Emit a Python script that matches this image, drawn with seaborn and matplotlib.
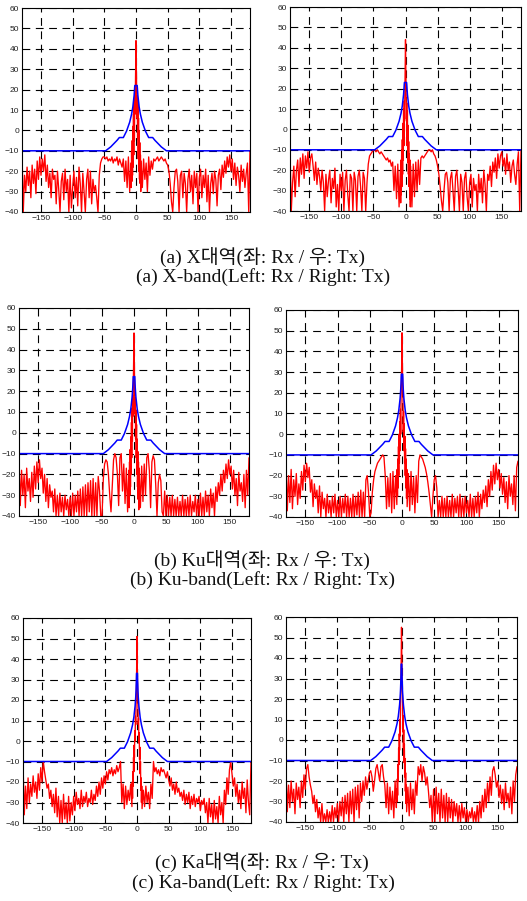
import numpy as np
import pandas as pd
import matplotlib
matplotlib.use("Agg")
import matplotlib.pyplot as plt
import seaborn as sns

sns.set_style("white")
plt.rcParams['font.family'] = ['Liberation Sans', 'DejaVu Sans']

# ---------------- data ----------------
# angle grids (degrees)
ang_left = np.arange(-180, -9, 2)          # -180 .. -10
ang_center = np.arange(-8, 8.01, 0.5)       # -8 .. 8
ang_right = np.arange(10, 181, 2)           # 10 .. 180

# ---- X band Rx ----
x_rx_left = [-10, -40, -22, -30, -18, -27, -20, -33, -17, -26,
             -19, -31, -15, -24, -13, -22, -14, -20, -12, -25,
             -17, -28, -21, -33, -19, -24, -22, -36, -20, -29,
             -40, -25, -21, -34, -19, -30, -24, -40, -22, -38,
             -28, -20, -33, -23, -37, -18, -26, -40, -21, -30,
             -40, -24, -19, -33, -20, -36, -24, -30, -27, -33,
             -40, -22, -16, -14, -13, -13, -14, -13, -15, -14,
             -15, -13, -16, -14, -15, -13, -17, -14, -16, -18,
             -14, -25, -15, -28, -13, -30]
x_rx_center = [-16, -28, -10, -25, -5, -22, 2, -18, 8, -12, 14, -5, 18, 8, 22, 32, 44,
               33, 21, 6, 17, -4, 13, -14, 6, -20, 0, -24, -6, -26, -12, -30, -15]
x_rx_right = [-28, -14, -24, -16, -30, -13, -22, -15, -19, -14,
              -15, -14, -13, -15, -14, -13, -14, -15, -14, -16,
              -17, -20, -26, -35, -40, -28, -20, -19, -25, -40,
              -22, -20, -33, -21, -26, -40, -24, -19, -30, -22,
              -36, -20, -28, -21, -40, -23, -19, -33, -22, -28,
              -19, -35, -22, -40, -26, -21, -31, -20, -24, -37,
              -22, -19, -29, -17, -23, -15, -21, -13, -18, -12,
              -20, -14, -24, -16, -27, -18, -22, -30, -17, -25,
              -19, -28, -21, -16, -40, -10]

# ---- X band Tx ----
x_tx_left = [-10, -40, -26, -18, -33, -20, -15, -28, -14, -22,
             -12, -24, -13, -19, -11, -21, -14, -12, -18, -25,
             -16, -27, -19, -23, -30, -20, -26, -40, -22, -33,
             -25, -20, -36, -24, -29, -19, -38, -27, -40, -22,
             -30, -21, -40, -25, -20, -32, -40, -22, -24, -40,
             -21, -25, -40, -23, -20, -28, -40, -21, -24, -40,
             -26, -17, -13, -12, -11, -10, -10, -11, -10, -11,
             -12, -11, -12, -13, -14, -15, -14, -16, -15, -18,
             -16, -30, -18, -34, -17, -38]
x_tx_center = [-20, -36, -15, -32, -10, -28, -5, -22, 3, -15, 10, -8, 14, 5, 20, 30, 44,
               31, 19, 4, 13, -8, 9, -16, 2, -22, -6, -28, -12, -34, -15, -38, -18]
x_tx_right = [-38, -17, -33, -16, -30, -15, -27, -14, -13, -14,
              -13, -12, -11, -10, -10, -11, -10, -12, -13, -15,
              -18, -22, -28, -35, -40, -30, -22, -21, -26, -40,
              -24, -21, -30, -40, -23, -20, -29, -40, -22, -26,
              -40, -24, -21, -33, -40, -26, -22, -38, -24, -30,
              -27, -40, -22, -31, -24, -36, -20, -27, -40, -22,
              -25, -18, -28, -16, -21, -14, -24, -12, -19, -13,
              -11, -18, -14, -22, -12, -20, -16, -26, -18, -15,
              -22, -27, -17, -11, -40, -10]

# ---- Ku band Rx ----
ku_rx_left = [-13, -35, -18, -30, -20, -36, -17, -28, -22, -33,
              -19, -31, -16, -27, -14, -24, -13, -22, -17, -29,
              -20, -33, -22, -36, -25, -31, -28, -38, -27, -40,
              -30, -40, -29, -38, -31, -40, -30, -37, -32, -40,
              -31, -40, -29, -40, -30, -38, -28, -40, -27, -40,
              -26, -40, -25, -40, -24, -38, -23, -40, -22, -40,
              -24, -40, -21, -28, -40, -40, -22, -15, -13, -14,
              -20, -30, -38, -25, -13, -10, -12, -20, -35, -12,
              -10, -28, -15, -34, -17, -38]
ku_rx_center = [-18, -36, -14, -30, -8, -26, -2, -20, 5, -12, 12, -4, 18, 8, 25, 35, 48,
                36, 24, 9, 17, -3, 11, -12, 4, -20, -3, -26, -9, -32, -14, -37, -17]
ku_rx_right = [-36, -16, -33, -15, -30, -12, -10, -18, -36, -14,
               -11, -13, -25, -40, -24, -20, -23, -38, -40, -28,
               -40, -30, -40, -31, -40, -30, -40, -32, -40, -31,
               -40, -33, -40, -30, -40, -32, -40, -31, -40, -30,
               -40, -33, -38, -30, -40, -32, -40, -29, -40, -31,
               -40, -28, -38, -30, -40, -27, -36, -29, -40, -26,
               -33, -24, -30, -20, -28, -18, -24, -15, -22, -13,
               -20, -16, -27, -18, -30, -22, -35, -19, -28, -24,
               -33, -20, -36, -18, -30, -12]

# ---- Ku band Tx ----
ku_tx_left = [-13, -37, -20, -33, -17, -36, -22, -30, -19, -34,
              -24, -31, -18, -27, -15, -23, -14, -21, -16, -28,
              -22, -35, -24, -31, -27, -38, -25, -40, -28, -36,
              -31, -40, -29, -38, -32, -40, -30, -38, -29, -40,
              -32, -40, -30, -40, -31, -38, -29, -40, -30, -40,
              -31, -40, -29, -40, -30, -39, -28, -40, -27, -40,
              -28, -40, -22, -20, -28, -40, -38, -28, -22, -18,
              -16, -14, -13, -12, -11, -10, -11, -20, -36, -21,
              -35, -19, -38, -18, -36, -20]
ku_tx_center = [-34, -17, -30, -12, -26, -6, -20, 0, -14, 6, -8, 12, 0, 18, 24, 34, 49,
                35, 25, 17, 1, 11, -8, 5, -14, -1, -20, -7, -26, -12, -31, -17, -35]
ku_tx_right = [-19, -37, -18, -34, -21, -38, -20, -33, -13, -10,
               -11, -12, -14, -16, -19, -23, -28, -34, -40, -30,
               -22, -20, -26, -40, -32, -40, -30, -40, -31, -40,
               -30, -40, -32, -40, -29, -40, -31, -38, -30, -40,
               -29, -40, -31, -40, -30, -38, -32, -40, -29, -40,
               -31, -40, -30, -38, -28, -40, -29, -36, -27, -33,
               -25, -35, -22, -30, -18, -27, -15, -24, -14, -22,
               -17, -26, -19, -29, -21, -33, -23, -36, -20, -30,
               -24, -34, -20, -37, -16, -13]

# ---- Ka band Rx ----
ka_rx_left = [-10, -36, -22, -33, -18, -30, -21, -27, -17, -25,
              -20, -28, -16, -24, -13, -20, -10, -15, -19, -23,
              -21, -28, -24, -32, -26, -35, -23, -37, -27, -40,
              -29, -40, -26, -38, -30, -40, -27, -39, -30, -36,
              -27, -34, -25, -31, -28, -33, -24, -32, -27, -30,
              -25, -32, -28, -30, -24, -31, -26, -29, -22, -27,
              -20, -26, -18, -23, -17, -21, -15, -19, -14, -16,
              -13, -17, -14, -16, -12, -15, -13, -10, -30, -21,
              -33, -22, -31, -24, -29, -21]
ka_rx_center = [-32, -20, -28, -15, -22, -8, -15, -2, -8, 5, 0, 12, 8, 18, 24, 36, 51,
                37, 23, 17, 8, 11, -1, 4, -9, -3, -16, -10, -24, -18, -30, -22, -33]
ka_rx_right = [-24, -32, -22, -30, -25, -33, -21, -28, -10, -15,
               -13, -16, -14, -17, -13, -15, -14, -16, -18, -15,
               -19, -22, -18, -24, -21, -26, -20, -25, -23, -27,
               -25, -29, -24, -31, -26, -30, -25, -33, -27, -31,
               -26, -32, -28, -30, -27, -34, -29, -31, -28, -35,
               -30, -40, -28, -37, -31, -40, -29, -38, -32, -40,
               -27, -36, -30, -40, -24, -31, -18, -26, -14, -10,
               -16, -22, -18, -27, -21, -30, -24, -33, -20, -28,
               -23, -35, -19, -30, -36, -10]

# ---- Ka band Tx ----
ka_tx_left = [-14, -35, -22, -33, -20, -30, -24, -36, -21, -29,
              -23, -33, -20, -28, -17, -24, -14, -12, -18, -22,
              -25, -31, -27, -35, -29, -38, -33, -40, -31, -40,
              -36, -40, -34, -40, -35, -40, -32, -40, -33, -38,
              -31, -40, -30, -37, -28, -40, -27, -36, -26, -40,
              -25, -36, -24, -40, -23, -34, -22, -38, -21, -30,
              -20, -27, -18, -24, -20, -16, -15, -18, -25, -20,
              -14, -12, -16, -20, -13, -12, -18, -22, -33, -21,
              -36, -23, -34, -25, -38, -20]
ka_tx_center = [-33, -24, -30, -19, -27, -12, -20, -4, -12, 3, -5, 10, 2, 20, 26, 38, 55,
                39, 27, 21, 4, 12, -4, 5, -11, -2, -18, -9, -25, -16, -31, -22, -35]
ka_tx_right = [-23, -37, -21, -34, -24, -36, -20, -27, -13, -17,
               -12, -20, -13, -16, -22, -18, -25, -33, -27, -40,
               -24, -40, -23, -36, -26, -40, -24, -38, -27, -40,
               -26, -40, -28, -38, -29, -40, -30, -37, -31, -40,
               -32, -40, -31, -38, -33, -40, -34, -40, -35, -38,
               -33, -40, -35, -40, -32, -40, -30, -38, -27, -35,
               -24, -33, -21, -30, -18, -27, -15, -13, -17, -23,
               -20, -28, -22, -31, -24, -34, -21, -30, -26, -33,
               -23, -36, -20, -30, -17, -13]

# ---- reference masks (blue), positive-angle side, mirrored for negative ----
mask_side_ang = [3, 5, 7, 10, 15, 20, 26.3, 30, 40, 48, 180]
mask_side_val = [17.1, 11.5, 7.9, 4.0, -0.4, -3.5, -3.5, -4.9, -8.1, -10, -10]
x_rx_mask_top = ([0, 1.9], [22, 22])
x_tx_mask_top = ([0, 1.7], [23, 23])
ku_rx_mask_top = ([0, 1.2, 1.5, 2], [27, 27, 24.6, 21.5])
ku_tx_mask_top = ([0, 1.0, 1.5, 2], [29, 29, 24.6, 21.5])
ka_rx_mask_top = ([0, 0.7, 1.0, 1.5, 2], [33, 33, 29, 24.6, 21.5])
ka_tx_mask_top = ([0, 0.5, 0.7, 1.0, 1.5, 2], [37, 37, 32.9, 29, 24.6, 21.5])

captions = [("(a) X대역(좌: Rx / 우: Tx)", "(a) X-band(Left: Rx / Right: Tx)"),
            ("(b) Ku대역(좌: Rx / 우: Tx)", "(b) Ku-band(Left: Rx / Right: Tx)"),
            ("(c) Ka대역(좌: Rx / 우: Tx)", "(c) Ka-band(Left: Rx / Right: Tx)")]

x_ticks = [-150, -100, -50, 0, 50, 100, 150]
y_ticks = [-40, -30, -20, -10, 0, 10, 20, 30, 40, 50, 60]

panels = [
    (x_rx_left, x_rx_center, x_rx_right, x_rx_mask_top),
    (x_tx_left, x_tx_center, x_tx_right, x_tx_mask_top),
    (ku_rx_left, ku_rx_center, ku_rx_right, ku_rx_mask_top),
    (ku_tx_left, ku_tx_center, ku_tx_right, ku_tx_mask_top),
    (ka_rx_left, ka_rx_center, ka_rx_right, ka_rx_mask_top),
    (ka_tx_left, ka_tx_center, ka_tx_right, ka_tx_mask_top),
]

# ---------------- layout (pixels: left, right, top, bottom) ----------------
W, H = 527, 901
boxes = [(22, 250, 8, 212), (290, 521, 7, 211),
         (19, 249, 308, 516), (286, 518, 310, 517),
         (23, 251, 618, 823), (286, 517, 617, 822)]
caption_y = [(257, 277), (560, 580), (862, 883)]

fig = plt.figure(figsize=(W / 100, H / 100), dpi=100)
fig.patch.set_facecolor("white")

for (left, center, right, mtop), (l, r, t, b) in zip(panels, boxes):
    ax = fig.add_axes([l / W, 1 - b / H, (r - l) / W, (b - t) / H])
    ang = np.concatenate([ang_left, ang_center, ang_right])
    val = np.concatenate([left, center, right])
    df_red = pd.DataFrame({"angle": ang, "gain": val})

    pos_ang = list(mtop[0]) + mask_side_ang
    pos_val = list(mtop[1]) + mask_side_val
    m_ang = [-a for a in pos_ang[::-1]] + pos_ang
    m_val = pos_val[::-1] + pos_val
    df_blue = pd.DataFrame({"angle": m_ang, "gain": m_val})

    ax.set_axisbelow(True)
    ax.grid(True, color="black", linestyle=(0, (7, 5)), linewidth=0.8)
    sns.lineplot(data=df_red, x="angle", y="gain", ax=ax, color="#ff0000",
                 linewidth=0.95, sort=False, estimator=None)
    sns.lineplot(data=df_blue, x="angle", y="gain", ax=ax, color="#0000ff",
                 linewidth=1.1, sort=False, estimator=None)

    ax.set_xlim(-180, 180)
    ax.set_ylim(-40, 60)
    ax.set_xticks(x_ticks)
    ax.set_yticks(y_ticks)
    ax.set_xlabel("")
    ax.set_ylabel("")
    ax.tick_params(direction="in", length=2, width=0.6, labelsize=6,
                   labelcolor="#222222", pad=2)
    for s in ax.spines.values():
        s.set_color("black")
        s.set_linewidth(0.8)

cap_fam = ['Liberation Serif', 'Noto Sans CJK KR']
for (k, e), (y1, y2) in zip(captions, caption_y):
    fig.text(262 / W, 1 - y1 / H, k, ha="center", va="center",
             fontsize=14, family=cap_fam, color="#111111")
    fig.text(263 / W, 1 - y2 / H, e, ha="center", va="center",
             fontsize=14, family=cap_fam, color="#111111")

fig.savefig("out.png", dpi=100, facecolor="white")
